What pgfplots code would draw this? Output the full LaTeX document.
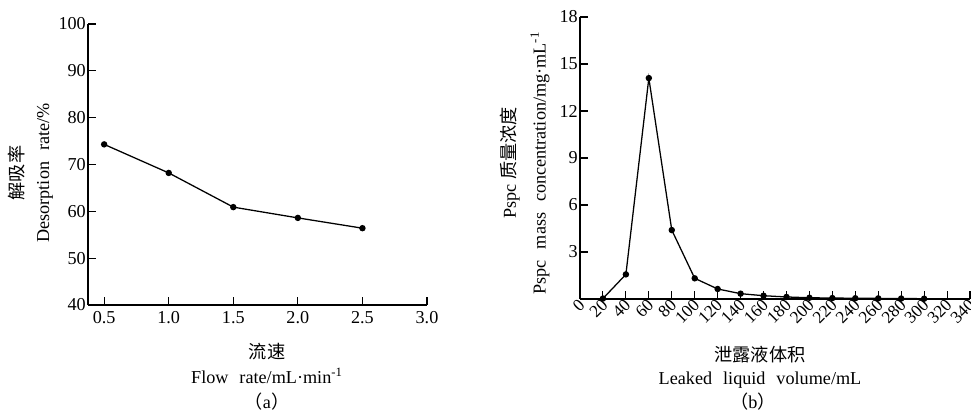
\documentclass[border=0pt]{standalone}
\usepackage{fontspec}
\setmainfont{Liberation Serif}
\newfontfamily\cjk{Noto Sans CJK SC}
\usepackage{pgfplots}
\pgfplotsset{compat=1.18}
\begin{document}
\begin{tikzpicture}
\useasboundingbox (0pt,0pt) rectangle (534.05pt,227.15pt);
\pgfplotsset{
  common/.style={
    scale only axis,
    axis lines=left,
    axis line style={-, line width=0.75pt},
    tick style={line width=0.6pt, black},
    major tick length=4.5pt,
    tick align=inside,
    /pgf/number format/assume math mode=true,
    tick label style={font=\fontsize{10}{12}\selectfont},
    yticklabel style={inner xsep=1pt},
    clip=false,
  }
}
\begin{axis}[common,
  at={(48.4pt,59.4pt)}, anchor=origin,
  width=186.45pt, height=154.55pt,
  xmin=0.375, xmax=3.0, ymin=40, ymax=100,
  xtick={0.5,1.0,1.5,2.0,2.5,3.0},
  xticklabels={0.5,1.0,1.5,2.0,2.5,3.0},
  ytick={40,50,...,100},
]
\addplot[black, line width=0.7pt, mark=*, mark size=1.4pt] coordinates {
(0.5,74.3) (1.0,68.2) (1.5,60.9) (2.0,58.6) (2.5,56.4)
};
\end{axis}
\begin{axis}[common,
  at={(319pt,62.7pt)}, anchor=origin,
  width=214.5pt, height=155.1pt,
  xmin=0, xmax=340, ymin=0, ymax=18,
  xtick={0,20,...,340},
  ytick={3,6,...,18},
  xticklabel style={rotate=45, anchor=east, inner sep=0.5pt, yshift=-2pt, font=\fontsize{9.5}{11}\selectfont},
]
\addplot[black, line width=0.7pt, mark=*, mark size=1.4pt] coordinates {
(20,0.03) (40,1.57) (60,14.1) (80,4.40) (100,1.32) (120,0.64) (140,0.34)
(160,0.21) (180,0.13) (200,0.08) (220,0.06) (240,0.05) (260,0.04) (280,0.03) (300,0.02)
};
\end{axis}
\node[rotate=90] at (9.35pt,132pt) {\cjk 解吸率};
\node[rotate=90] at (24.75pt,132pt) {Desorption\hspace{0.6em}rate/\%};
\node at (146.85pt,33.55pt) {\cjk 流速};
\node at (146.85pt,20.35pt) {Flow\hspace{0.6em}rate/mL·min\textsuperscript{-1}};
\node at (146.85pt,6.2pt) {{\cjk （}a{\cjk ）}};
\node[rotate=90] at (280.5pt,137.5pt) {Pspc {\cjk 质量浓度}};
\node[rotate=90] at (297pt,137.5pt) {Pspc\hspace{0.6em}mass\hspace{0.6em}concentration/mg·mL\textsuperscript{-1}};
\node at (418pt,31.9pt) {\cjk 泄露液体积};
\node at (418pt,18.15pt) {Leaked\hspace{0.6em}liquid\hspace{0.6em}volume/mL};
\node at (414.15pt,6.2pt) {{\cjk （}b{\cjk ）}};
\end{tikzpicture}
\end{document}
